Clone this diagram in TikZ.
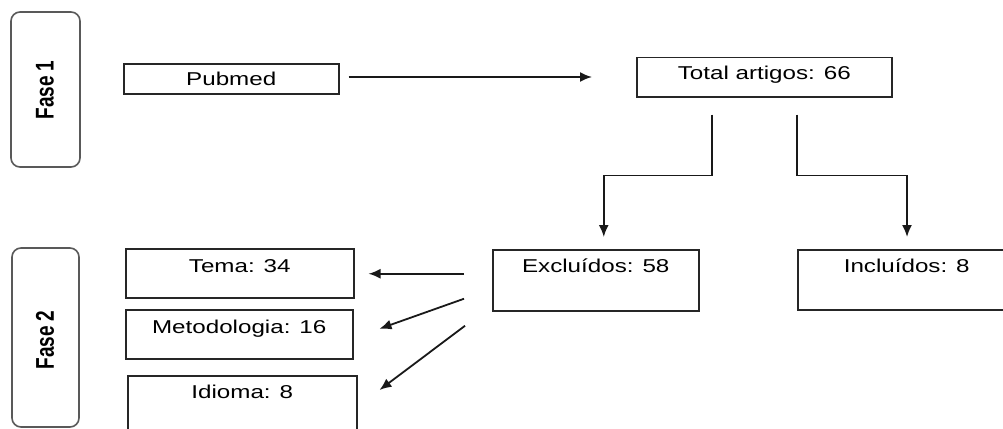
\documentclass[tikz,border=0pt]{standalone}
\usepackage{fontspec}
\usetikzlibrary{arrows.meta,calc}
\newfontfamily\wf[FakeStretch=1.3]{Liberation Sans}
\newfontfamily\phasefont{Liberation Sans Bold}
\begin{document}
\begin{tikzpicture}[x=1pt,y=-1pt,
  box/.style={draw=black!85,line width=1.5pt,inner sep=0pt,anchor=north west,
    font=\wf\fontsize{18.6}{20}\selectfont},
  phase/.style={draw=black!65,line width=1.6pt,rounded corners=9pt},
  phtext/.style={rotate=90,font=\phasefont\fontsize{19}{20}\selectfont},
  arr/.style={draw=black!90,line width=1.8pt,-{Latex[length=12pt,width=10pt]}}]
\useasboundingbox (0,0) rectangle (1003,428);
\begin{scope}
\clip (0,0) rectangle (1003,428);
% phase boxes
\draw[phase] (11,12) rectangle (80,167);
\node[phtext] (f1) at (45,90) {\scalebox{1}[1.35]{Fase 1}};
\draw[phase] (12,248) rectangle (79,427);
\node[phtext] (f2) at (45,340) {\scalebox{1}[1.35]{Fase 2}};
% boxes
\node[box,minimum width=215pt,text height=22pt,text depth=8pt] (pub) at (123,63) {Pubmed};
\node[box,minimum width=255pt,text height=22pt,text depth=17pt] (tot) at (636,57) {Total artigos: 66};
\node[box,minimum width=206pt,text height=23pt,text depth=38pt] (exc) at (492,249) {Excluídos: 58};
\node[box,minimum width=218pt,text height=23pt,text depth=37pt] (inc) at (797,249) {Incluídos: 8};
\node[box,minimum width=228pt,text height=24pt,text depth=25pt] (tema) at (125,248) {Tema: 34};
\node[box,minimum width=227pt,text height=24pt,text depth=25pt] (met) at (125,309) {Metodologia: 16};
\node[box,minimum width=229pt,text height=23pt,text depth=60pt] (idi) at (127,375) {Idioma: 8};
\end{scope}
% connectors
\draw[arr,shorten <=9pt,shorten >=44pt] (pub.east |- 0,77) -- (tot.west |- 0,77);
\coordinate (a1) at ($(tot.south)+(-52.5,17)$);
\coordinate (a2) at ($(exc.north)+(8,-12)$);
\draw[arr] (a1) -- ++(0,61) -| (a2);
\coordinate (b1) at ($(tot.south)+(32.5,17)$);
\coordinate (b2) at ($(inc.north -| 907,0)+(0,-12)$);
\draw[arr] (b1) -- ++(0,61) -| (b2);
\coordinate (c1) at ($(exc.west)+(-28,-6.5)$);
\coordinate (c2) at ($(tema.east)+(14,0.5)$);
\draw[arr] (c1) -- (c2);
\coordinate (d1) at ($(exc.west)+(-28,18.5)$);
\coordinate (d2) at ($(met.east)+(26,-5.5)$);
\draw[arr] (d1) -- (d2);
\coordinate (e1) at ($(exc.west)+(-27,45.5)$);
\coordinate (e2) at ($(idi.north east)+(22,15)$);
\draw[arr] (e1) -- (e2);
\end{tikzpicture}
\end{document}
